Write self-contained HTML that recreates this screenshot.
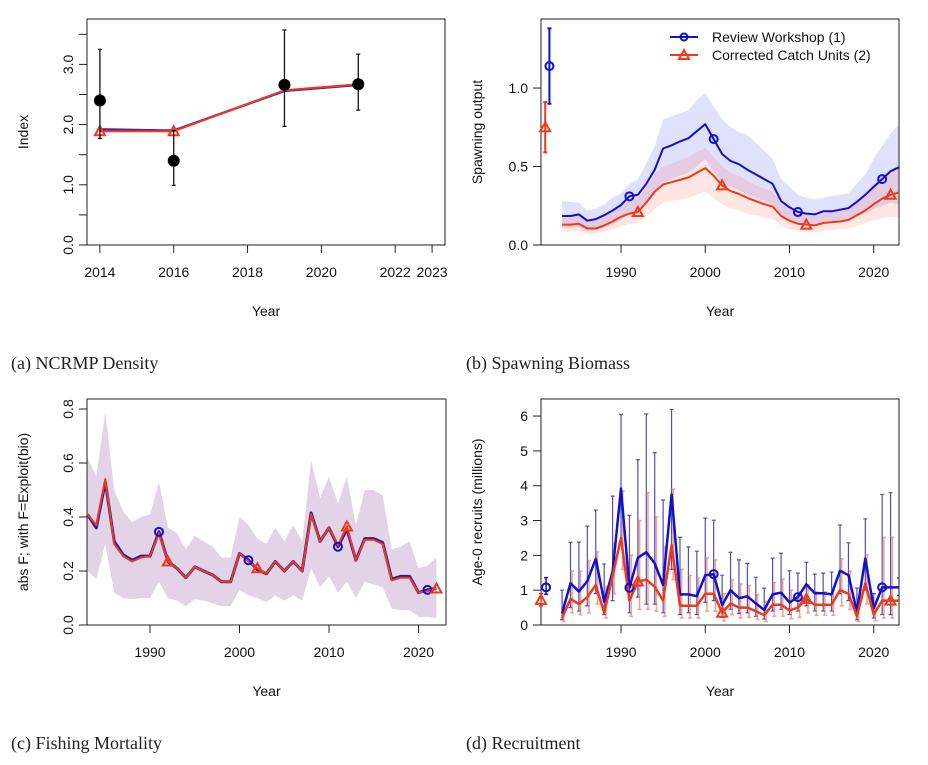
<!DOCTYPE html>
<html><head><meta charset="utf-8">
<style>
body{margin:0;background:#fff;}
svg{display:block;font-family:"Liberation Sans",sans-serif;}
.cap{font-family:"Liberation Serif",serif;font-size:18px;fill:#222;}
</style></head>
<body>
<svg id="fig" width="928" height="765" viewBox="0 0 928 765" xmlns="http://www.w3.org/2000/svg">
<defs><clipPath id="clipD"><rect x="541" y="399" width="358" height="226"/></clipPath></defs>
<text class="cap" x="11" y="369">(a) NCRMP Density</text>
<text class="cap" x="466" y="369">(b) Spawning Biomass</text>
<text class="cap" x="11" y="749">(c) Fishing Mortality</text>
<text class="cap" x="466" y="749">(d) Recruitment</text>
</svg>
<script>
// ---------- Panel A data ----------
const aObsYears=[2014,2016,2019,2021];
const aObs=[2.4,1.4,2.66,2.67];
const aObsLo=[1.77,0.99,1.97,2.24];
const aObsHi=[3.25,1.9,3.57,3.17];
const aExp1=[1.92,1.9,2.56,2.66];
const aExp2=[1.89,1.89,2.57,2.67];
const aXTicks=[2014,2016,2018,2020,2022,2023];
const aYTicks=[0,0.5,1,1.5,2,2.5,3,3.5];
const aYLabels=["0.0","","1.0","","2.0","","3.0",""];
// ---------- Panel B data ----------
const bYears=[1983,1984,1985,1986,1987,1988,1989,1990,1991,1992,1993,1994,1995,1996,1997,1998,1999,2000,2001,2002,2003,2004,2005,2006,2007,2008,2009,2010,2011,2012,2013,2014,2015,2016,2017,2018,2019,2020,2021,2022,2023];
const bBlue=[.185,.185,.195,.155,.165,.19,.22,.255,.31,.32,.39,.48,.615,.635,.66,.68,.725,.77,.675,.58,.535,.515,.48,.45,.42,.39,.28,.24,.21,.2,.195,.215,.215,.225,.235,.275,.32,.37,.42,.47,.495];
const bBlueHi=[.28,.275,.27,.22,.23,.26,.3,.33,.39,.42,.52,.63,.8,.82,.84,.86,.92,.97,.88,.8,.75,.72,.7,.65,.6,.55,.42,.37,.32,.3,.29,.3,.31,.32,.33,.39,.45,.55,.63,.71,.77];
const bBlueLo=[.11,.11,.115,.09,.095,.11,.13,.16,.2,.21,.26,.32,.4,.42,.44,.46,.5,.55,.47,.4,.37,.35,.32,.3,.28,.26,.18,.16,.14,.135,.13,.14,.14,.15,.155,.18,.2,.23,.25,.27,.26];
const bRed=[.13,.13,.135,.105,.105,.125,.15,.18,.2,.21,.27,.34,.385,.4,.415,.43,.46,.49,.44,.38,.345,.325,.3,.28,.26,.245,.185,.155,.135,.13,.125,.14,.145,.15,.16,.19,.22,.26,.295,.32,.335];
const bRedHi=[.19,.19,.195,.16,.16,.18,.21,.25,.28,.3,.37,.45,.5,.52,.54,.56,.59,.62,.56,.5,.46,.44,.41,.38,.36,.34,.27,.23,.2,.19,.185,.2,.21,.22,.24,.28,.33,.39,.44,.48,.5];
const bRedLo=[.085,.085,.09,.07,.07,.085,.1,.12,.135,.14,.18,.23,.27,.28,.29,.3,.32,.34,.3,.26,.23,.22,.2,.19,.175,.165,.12,.1,.09,.085,.08,.09,.095,.1,.105,.12,.14,.16,.17,.18,.18];
const bVirgin=[1.14,0.75];
const bVirginLo=[0.9,0.59];
const bVirginHi=[1.38,0.91];
const bVirginYears=[1981.5,1981.0];
const bBlueMarkYears=[1991,2001,2011,2021];
const bRedMarkYears=[1992,2002,2012,2022];
const decTicks=[1990,2000,2010,2020];
const bYTicks=[0,0.5,1.0];
const bYLabels=["0.0","0.5","1.0"];
// ---------- Panel C data ----------
const cYears=[1983,1984,1985,1986,1987,1988,1989,1990,1991,1992,1993,1994,1995,1996,1997,1998,1999,2000,2001,2002,2003,2004,2005,2006,2007,2008,2009,2010,2011,2012,2013,2014,2015,2016,2017,2018,2019,2020,2021,2022];
const cBlue=[.41,.36,.53,.31,.26,.24,.255,.255,.345,.235,.21,.175,.215,.2,.185,.16,.16,.265,.24,.205,.19,.235,.2,.235,.2,.415,.31,.36,.29,.355,.24,.32,.32,.305,.17,.18,.18,.12,.13,.135];
const cRed=[.41,.37,.54,.3,.255,.235,.25,.255,.34,.235,.21,.175,.215,.2,.185,.16,.16,.265,.235,.21,.19,.235,.2,.235,.2,.41,.31,.36,.295,.365,.24,.315,.315,.3,.165,.175,.175,.12,.125,.135];
const cHi=[.62,.55,.79,.5,.42,.38,.4,.41,.53,.36,.34,.28,.33,.31,.29,.25,.25,.4,.37,.32,.3,.36,.31,.37,.31,.61,.47,.55,.45,.55,.37,.5,.5,.48,.28,.29,.31,.21,.22,.25];
const cLo=[.2,.17,.3,.12,.1,.095,.1,.1,.16,.1,.09,.07,.095,.09,.08,.07,.07,.13,.11,.1,.085,.11,.09,.11,.09,.21,.14,.18,.12,.16,.1,.16,.15,.14,.06,.055,.055,.03,.03,.025];
const cBlueMarkYears=[1991,2001,2011,2021];
const cRedMarkYears=[1992,2002,2012,2022];
const cYTicks=[0,0.2,0.4,0.6,0.8];
const cYLabels=["0.0","0.2","0.4","0.6","0.8"];
// ---------- Panel D data ----------
const dYears=[1983,1984,1985,1986,1987,1988,1989,1990,1991,1992,1993,1994,1995,1996,1997,1998,1999,2000,2001,2002,2003,2004,2005,2006,2007,2008,2009,2010,2011,2012,2013,2014,2015,2016,2017,2018,2019,2020,2021,2022,2023];
const dBlue=[.33,1.2,.96,1.26,1.9,.67,1.53,3.92,1.07,1.93,2.09,1.77,1.15,3.75,.88,.88,.83,1.43,1.46,.57,1.0,.77,.82,.62,.43,.88,.93,.65,.8,1.17,.91,.91,.88,1.56,1.43,.38,1.91,.48,1.08,1.08,1.08];
const dBlueHi=[1.0,2.37,2.38,2.84,3.3,1.75,3.7,6.05,3.15,4.75,6.06,4.95,3.59,6.19,2.52,2.24,2.12,3.07,3.01,1.43,2.09,1.87,1.77,1.37,1.06,1.92,2.06,1.56,1.49,1.8,1.46,1.49,1.52,2.87,2.36,1.06,3.05,.9,3.75,3.8,1.35];
const dBlueLo=[.15,.5,.4,.55,.9,.3,.7,2.3,.35,.8,.6,.6,.35,1.6,.3,.35,.3,.65,.7,.22,.45,.33,.35,.25,.17,.4,.45,.3,.4,.55,.4,.4,.4,.9,.7,.15,1.0,.2,.3,.3,.85];
const dRed=[.2,.75,.6,.8,1.15,.35,1.4,2.5,.7,1.25,1.3,1.1,.7,2.3,.55,.55,.55,.9,.9,.35,.62,.5,.5,.4,.28,.58,.58,.42,.5,.75,.58,.58,.58,1.0,.9,.25,1.2,.3,.7,.7,.7];
const dRedHi=[.65,1.55,1.55,1.85,2.1,1.1,2.35,3.85,2.0,3.0,3.8,3.1,2.25,3.9,1.6,1.42,1.35,1.93,1.87,.9,1.3,1.18,1.13,.87,.68,1.22,1.32,1.0,.95,1.15,.95,.95,.98,1.9,1.55,.7,2.02,.6,2.52,2.52,.9];
const dRedLo=[.1,.35,.3,.35,.6,.2,.9,1.6,.25,.45,.45,.4,.25,1.3,.2,.2,.2,.4,.4,.12,.3,.2,.22,.16,.1,.25,.25,.18,.22,.35,.28,.28,.28,.55,.45,.1,.6,.12,.2,.2,.5];
const dVirgin=[1.08,0.72];
const dVirginLo=[0.88,0.55];
const dVirginHi=[1.36,0.9];
const dVirginYears=[1981.1,1980.5];
const dBlueMarkYears=[1991,2001,2011,2021];
const dRedMarkYears=[1992,2002,2012,2022];
const dYTicks=[0,1,2,3,4,5,6];
const dYLabels=["0","1","2","3","4","5","6"];

const BLUE="#1111cc", RED="#ee3a1a";
const svg=document.getElementById('fig');
const NS="http://www.w3.org/2000/svg";
function mk(tag,attrs,parent){const e=document.createElementNS(NS,tag);for(const k in attrs)e.setAttribute(k,attrs[k]);(parent||svg).appendChild(e);return e;}
function scale(d0,d1,r0,r1){return v=>r0+(v-d0)/(d1-d0)*(r1-r0);}

function panel(p){
  const g=mk('g',{});
  
  
  p.g=g;
  p.x=scale(p.x0,p.x1,p.L,p.R);
  p.y=scale(p.y0,p.y1,p.B,p.T);
  return p;
}
function axes(p,xt,xl,yt,yl,rotY,ytitle){
  const g=p.g;
  const box=mk('rect',{x:p.L,y:p.T,width:p.R-p.L,height:p.B-p.T,fill:'none',stroke:'#222','stroke-width':1},g);
  
  
  xt.forEach((v,i)=>{
    const X=p.x(v);
    const t=mk('line',{x1:X,x2:X,y1:p.B,y2:p.B+8,stroke:'#222'},g);
    
    
    const l=mk('text',{x:X,y:p.B+32,'text-anchor':'middle','font-size':14,fill:'#111'},g);
    
    
    l.textContent=xl[i];
  });
  yt.forEach((v,i)=>{
    const Y=p.y(v);
    const t=mk('line',{x1:p.L-8,x2:p.L,y1:Y,y2:Y,stroke:'#222'},g);
    
    
    if(yl[i]==="")return;
    let l;
    if(rotY){l=mk('text',{x:0,y:0,transform:`translate(${p.L-14},${Y}) rotate(-90)`,'text-anchor':'middle','font-size':14,fill:'#111'},g);}
    else{l=mk('text',{x:p.L-13,y:Y+5,'text-anchor':'end','font-size':14,fill:'#111'},g);}
    
    
    l.textContent=yl[i];
  });
  const xtl=mk('text',{x:(p.L+p.R)/2,y:p.B+71,'text-anchor':'middle','font-size':14,fill:'#111'},g);
  
  
  xtl.textContent='Year';
  const ytl=mk('text',{x:0,y:0,transform:`translate(${p.ytx},${(p.T+p.B)/2}) rotate(-90)`,'text-anchor':'middle','font-size':14,fill:'#111'},g);
  
  
  ytl.textContent=ytitle;
}
function pts(p,xs,ys){return xs.map((x,i)=>p.x(x).toFixed(1)+','+p.y(ys[i]).toFixed(1)).join(' ');}
function band(p,xs,lo,hi,fill,name){
  const d=pts(p,xs,hi)+' '+pts(p,xs.slice().reverse(),lo.slice().reverse());
  const e=mk('polygon',{points:d,fill:fill,stroke:'none'},p.g);
  
  
}
function line(p,xs,ys,col,w,name){
  const e=mk('polyline',{points:pts(p,xs,ys),fill:'none',stroke:col,'stroke-width':w,'stroke-linejoin':'round'},p.g);
  
  
}
function circ(p,x,v,col,name){
  const e=mk('circle',{cx:p.x(x),cy:p.y(v),r:4,fill:'none',stroke:col,'stroke-width':2},p.g);
  
  
}
function tri(p,x,v,col,name){
  const X=p.x(x),Y=p.y(v);
  const e=mk('polygon',{points:`${X-5},${Y+4} ${X+5},${Y+4} ${X},${Y-5}`,fill:'none',stroke:col,'stroke-width':2},p.g);
  
  
}
function ebar(p,x,lo,hi,col,w,name,parent){
  const X=p.x(x);
  const e=mk('path',{d:`M${X},${p.y(lo)}V${p.y(hi)}M${X-2},${p.y(lo)}H${X+2}M${X-2},${p.y(hi)}H${X+2}`,stroke:col,'stroke-width':w,fill:'none'},parent||p.g);
  
  
}
function valAt(xs,ys,yr){return ys[xs.indexOf(yr)];}

// ----- Panel A -----
const A=panel({name:'panel-a-index',L:87,R:445,T:19,B:245,x0:2013.65,x1:2023.35,y0:0,y1:3.754,ytx:28});
axes(A,aXTicks,aXTicks.map(String),aYTicks,aYLabels,true,'Index');
line(A,aObsYears,aExp1,'#5a1aa0',2.5,'expected-line-1');
line(A,aObsYears,aExp2,RED,2,'expected-line-2');
tri(A,2014,aExp2[0],RED,'marker-2');
tri(A,2016,aExp2[1],RED,'marker-2');
aObsYears.forEach((yr,i)=>{
  ebar(A,yr,aObsLo[i],aObsHi[i],'#111',1.3,'obs-error-bar');
  const c=mk('circle',{cx:A.x(yr),cy:A.y(aObs[i]),r:6,fill:'#000'},A.g);
  
  
});

// ----- Panel B -----
const Bp=panel({name:'panel-b-spawning',L:541,R:899,T:19,B:245,x0:1980.5,x1:2023,y0:0,y1:1.44,ytx:482});
band(Bp,bYears,bBlueLo,bBlueHi,'rgba(60,60,255,0.16)','ci-band-1');
band(Bp,bYears,bRedLo,bRedHi,'rgba(255,90,60,0.15)','ci-band-2');
axes(Bp,decTicks,decTicks.map(String),bYTicks,bYLabels,false,'Spawning output');
line(Bp,bYears,bBlue,BLUE,2,'line-review-workshop');
line(Bp,bYears,bRed,RED,2,'line-corrected-catch');
bBlueMarkYears.forEach(yr=>circ(Bp,yr,valAt(bYears,bBlue,yr),BLUE,'marker-1'));
bRedMarkYears.forEach(yr=>tri(Bp,yr,valAt(bYears,bRed,yr),RED,'marker-2'));
ebar(Bp,bVirginYears[0],bVirginLo[0],bVirginHi[0],BLUE,2,'virgin-error-bar-1');
circ(Bp,bVirginYears[0],bVirgin[0],BLUE,'virgin-point-1');
ebar(Bp,bVirginYears[1],bVirginLo[1],bVirginHi[1],RED,2,'virgin-error-bar-2');
tri(Bp,bVirginYears[1],bVirgin[1],RED,'virgin-point-2');
// legend
const lg=mk('g',{},Bp.g);


const l1=mk('line',{x1:670,x2:698,y1:37,y2:37,stroke:BLUE,'stroke-width':2},lg);


const lc=mk('circle',{cx:684,cy:37,r:3.5,fill:'none',stroke:BLUE,'stroke-width':2},lg);


const t1=mk('text',{x:712,y:42,'font-size':14,fill:'#111'},lg);


t1.textContent='Review Workshop (1)';
const l2=mk('line',{x1:670,x2:698,y1:55,y2:55,stroke:RED,'stroke-width':2},lg);


const lt=mk('polygon',{points:'679,59 689,59 684,50',fill:'none',stroke:RED,'stroke-width':2},lg);


const t2=mk('text',{x:712,y:60,'font-size':14,fill:'#111'},lg);


t2.textContent='Corrected Catch Units (2)';

// ----- Panel C -----
const C=panel({name:'panel-c-fishing',L:87,R:446,T:399,B:625,x0:1982.96,x1:2023.07,y0:0,y1:0.837,ytx:28});
band(C,cYears,cLo,cHi,'rgba(110,40,130,0.2)','ci-band');
axes(C,decTicks,decTicks.map(String),cYTicks,cYLabels,true,'abs F; with F=Exploit(bio)');
line(C,cYears,cBlue,'#2a1aa8',3,'line-review-workshop');
line(C,cYears,cRed,RED,2,'line-corrected-catch');
cBlueMarkYears.forEach(yr=>circ(C,yr,valAt(cYears,cBlue,yr),BLUE,'marker-1'));
cRedMarkYears.forEach(yr=>tri(C,yr,valAt(cYears,cRed,yr),RED,'marker-2'));

// ----- Panel D -----
const D=panel({name:'panel-d-recruitment',L:541,R:899,T:399,B:625,x0:1980.5,x1:2023,y0:0,y1:6.49,ytx:482});
axes(D,decTicks,decTicks.map(String),dYTicks,dYLabels,false,'Age-0 recruits (millions)');
const dClip=mk('g',{'clip-path':'url(#clipD)'},D.g);


dYears.forEach((yr,i)=>{
  ebar(D,yr,dBlueLo[i],dBlueHi[i],'rgba(20,20,170,0.75)',1.2,'error-bar-1',dClip);
  ebar(D,yr+0.2,dRedLo[i],dRedHi[i],'rgba(230,90,60,0.55)',1.6,'error-bar-2',dClip);
});
line(D,dYears,dBlue,BLUE,2.5,'line-review-workshop');
line(D,dYears,dRed,RED,2.5,'line-corrected-catch');
dBlueMarkYears.forEach(yr=>circ(D,yr,valAt(dYears,dBlue,yr),BLUE,'marker-1'));
dRedMarkYears.forEach(yr=>tri(D,yr,valAt(dYears,dRed,yr),RED,'marker-2'));
ebar(D,dVirginYears[0],dVirginLo[0],dVirginHi[0],BLUE,1.5,'virgin-error-bar-1');
circ(D,dVirginYears[0],dVirgin[0],BLUE,'virgin-point-1');
ebar(D,dVirginYears[1],dVirginLo[1],dVirginHi[1],RED,1.5,'virgin-error-bar-2');
tri(D,dVirginYears[1],dVirgin[1],RED,'virgin-point-2');
</script>
</body></html>
